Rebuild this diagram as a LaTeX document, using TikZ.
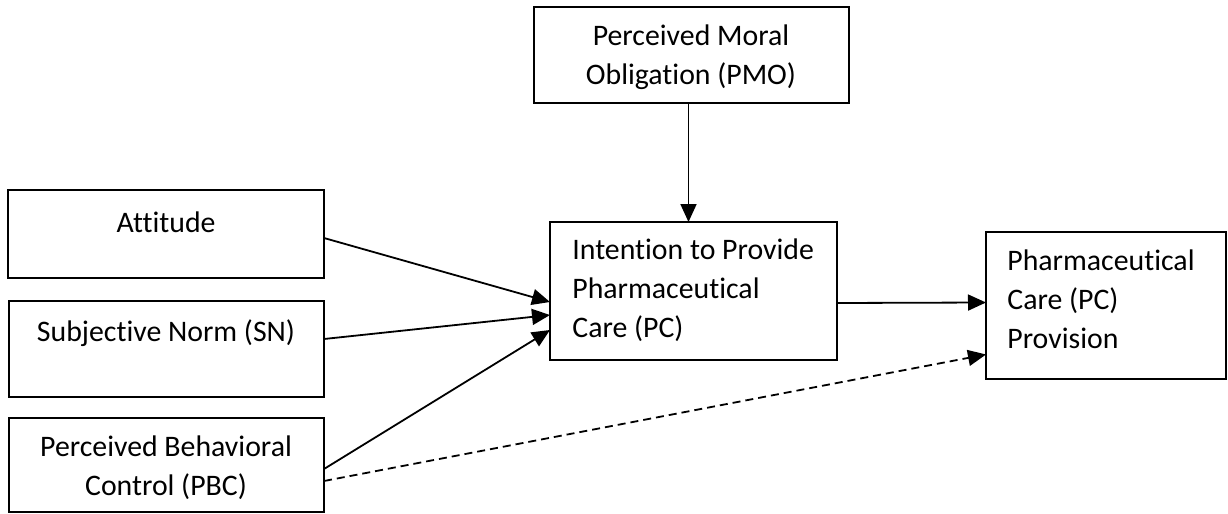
\documentclass[tikz,border=0pt]{standalone}
\usepackage{fontspec}
\setmainfont{Carlito}[Ligatures=NoCommon]
\usetikzlibrary{arrows.meta,fit,calc}
\tikzset{
  box/.style={draw, line width=1.2pt, inner sep=0pt, outer sep=0pt, rectangle},
  txt/.style={inner sep=0pt, font=\fontsize{14.9pt}{19.5pt}\selectfont},
  conn/.style={line width=0.9pt, -{Triangle[length=9pt,width=8pt]}},
  dconn/.style={conn, dash pattern=on 4pt off 2.5pt}
}
\begin{document}
\begin{tikzpicture}[x=0.5pt,y=-0.5pt]
\useasboundingbox (0,0) rectangle (1228,514);
% boxes
\node[box, fit={(8,190)(324,278)}] (att) {};
\node[box, fit={(9,301)(324,397)}] (sn) {};
\node[box, fit={(9,418)(324,512)}] (pbc) {};
\node[box, fit={(534,7)(849,103)}] (pmo) {};
\node[box, fit={(550,222)(837,360)}] (int) {};
\node[box, fit={(986,232)(1226,379)}] (prov) {};
% texts
\node[txt] (attT) at (166,222) {Attitude};
\node[txt] (snT) at (166,333) {Subjective Norm (SN)};
\node[txt, align=center] (pbcT) at (166,468) {Perceived Behavioral\\Control (PBC)};
\node[txt, align=center] (pmoT) at (691,57) {Perceived Moral\\Obligation (PMO)};
\node[txt, align=left, anchor=west] (intT) at (572,290) {Intention to Provide\\Pharmaceutical\\Care (PC)};
\node[txt, align=left, anchor=west] (provT) at (1007,299) {Pharmaceutical\\Care (PC)\\Provision};
% connectors
\draw[conn] ($(att.east)+(0,4)$) -- ($(int.west)+(0,11)$);
\draw[conn] ($(sn.east)+(0,-10)$) -- ($(int.west)+(0,24)$);
\draw[conn] ($(pbc.east)+(0,4)$) -- ($(int.west)+(0,39)$);
\draw[dconn] ($(pbc.east)+(0,16)$) -- ($(prov.west)+(0,49)$);
\draw[conn] ($(pmo.south)+(-3,0)$) -- ($(int.north)+(-5,0)$);
\draw[conn] ($(int.east)+(0,12)$) -- ($(prov.west)+(0,-3)$);
\end{tikzpicture}
\end{document}
